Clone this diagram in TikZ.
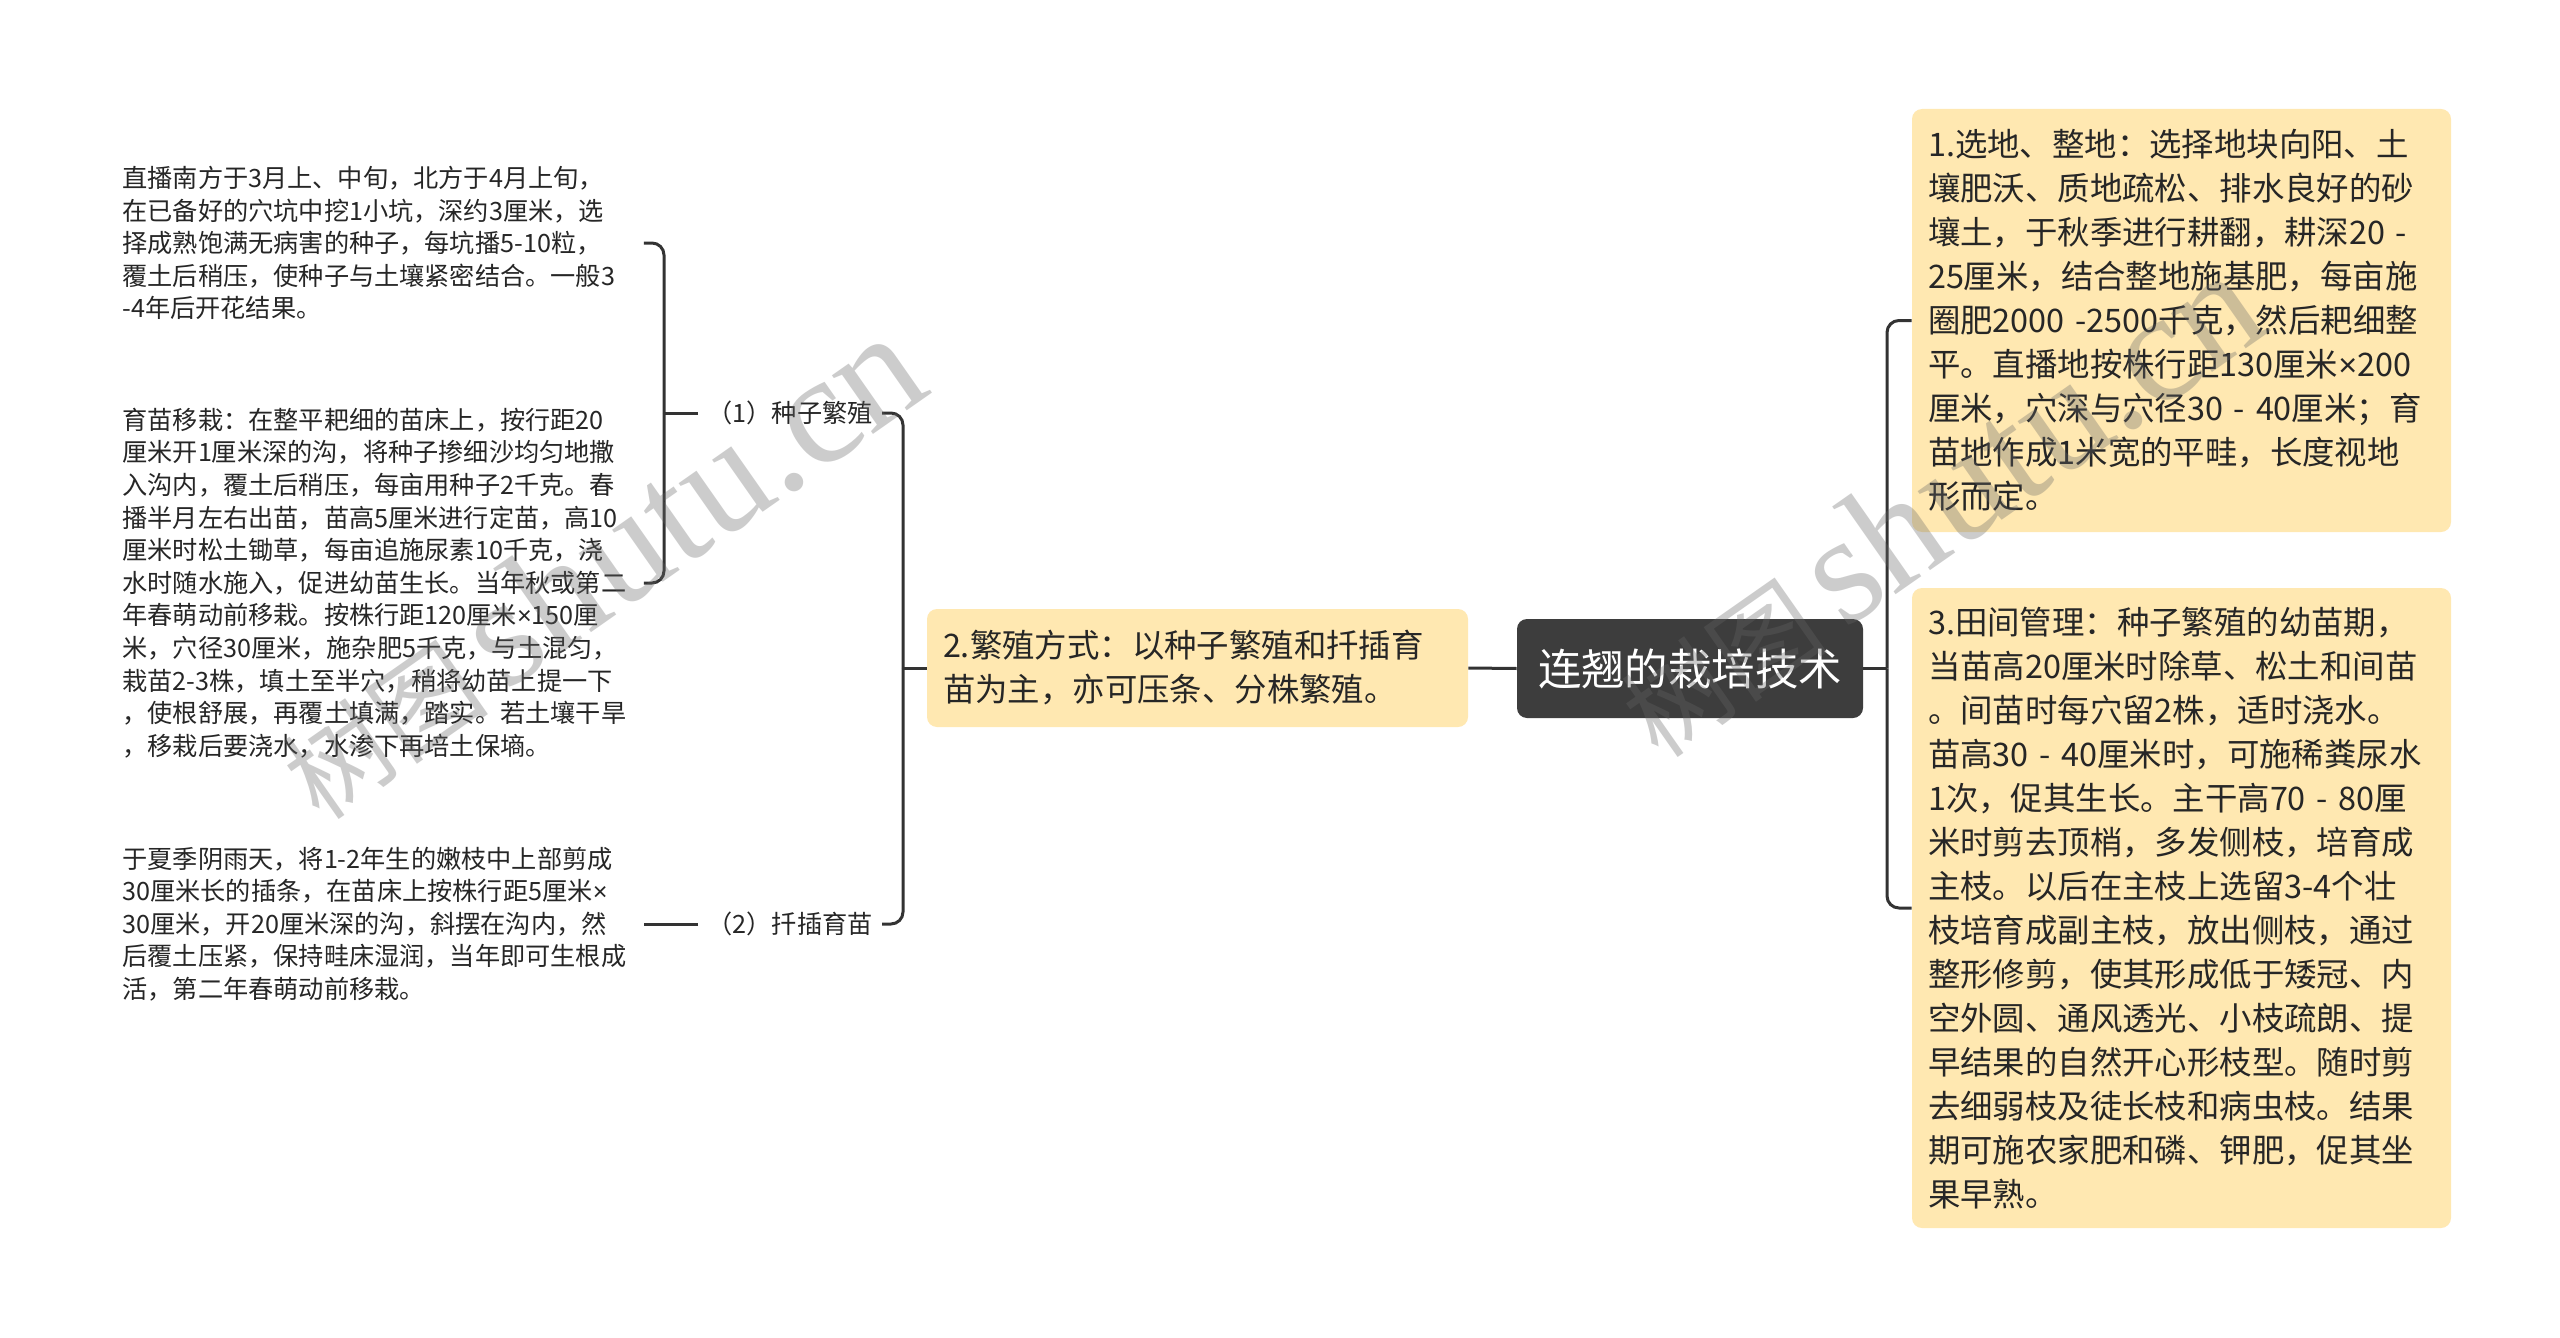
\documentclass[tikz,border=0pt]{standalone}
\usepackage{fontspec}
\setmainfont{Noto Sans CJK SC}
\newfontfamily\wmlatin{Liberation Serif}
\newfontfamily\wmcjk{Noto Sans CJK SC}
\newfontfamily\latinsans{Liberation Sans}
\newcommand{\tms}{{\latinsans ×}}
\definecolor{boxyellow}{HTML}{FFE8B1}
\definecolor{darkbox}{HTML}{3D3D3D}
\definecolor{linec}{HTML}{333333}
\definecolor{txt}{HTML}{262626}
\tikzset{
  conn/.style={draw=linec, line width=1.5pt, rounded corners=6pt},
  ybox/.style={fill=boxyellow, rounded corners=5pt, align=left, inner xsep=8pt, inner ysep=0pt,
    text=txt, font=\fontsize{16.2pt}{22pt}\selectfont},
  rootbox/.style={fill=darkbox, rounded corners=5pt, text=white, inner sep=0pt,
    minimum width=173pt, minimum height=49.5pt, font=\fontsize{21.7pt}{26pt}\selectfont},
  leaftext/.style={align=left, inner sep=0pt, text width=260.5pt, text=txt,
    font=\fontsize{12.6pt}{16.3pt}\selectfont},
  lbl/.style={inner xsep=4.5pt, inner ysep=2pt, text=txt, font=\fontsize{12.6pt}{16pt}\selectfont},
  wm/.style={text=black!60, text opacity=0.33, inner sep=0pt, rotate=35, anchor=base east}
}
\begin{document}
\begin{tikzpicture}[x=0.5pt, y=-0.5pt]
\useasboundingbox[fill=white] (0,0) rectangle (2560,1338);

% root
\node[rootbox] (root) at (1690,668.5) {连翘的栽培技术};

% right branches
\node[ybox, text width=253.5pt, minimum height=211.5pt] (b1) at (2181.5,320.5) {1.选地、整地：选择地块向阳、土\\
壤肥沃、质地疏松、排水良好的砂\\
壤土，于秋季进行耕翻，耕深20 -\\
25厘米，结合整地施基肥，每亩施\\
圈肥2000 -2500千克，然后耙细整\\
平。直播地按株行距130厘米\tms200\\
厘米，穴深与穴径30 - 40厘米；育\\
苗地作成1米宽的平畦，长度视地\\
形而定。};

\node[ybox, text width=253.5pt, minimum height=320pt] (b2) at (2181.5,908) {3.田间管理：种子繁殖的幼苗期，\\
当苗高20厘米时除草、松土和间苗\\
。间苗时每穴留2株，适时浇水。\\
苗高30 - 40厘米时，可施稀粪尿水\\
1次，促其生长。主干高70 - 80厘\\
米时剪去顶梢，多发侧枝，培育成\\
主枝。以后在主枝上选留3-4个壮\\
枝培育成副主枝，放出侧枝，通过\\
整形修剪，使其形成低于矮冠、内\\
空外圆、通风透光、小枝疏朗、提\\
早结果的自然开心形枝型。随时剪\\
去细弱枝及徒长枝和病虫枝。结果\\
期可施农家肥和磷、钾肥，促其坐\\
果早熟。};

% left branch
\node[ybox, text width=254.5pt, minimum height=59pt] (bl) at (1197.5,668) {2.繁殖方式：以种子繁殖和扦插育\\
苗为主，亦可压条、分株繁殖。};

\node[lbl, anchor=east] (l1) at (882,413) {（1）种子繁殖};
\node[lbl, anchor=east] (l2) at (882,924) {（2）扦插育苗};

\node[leaftext, anchor=west] (ta) at (122,243) {直播南方于3月上、中旬，北方于4月上旬，\\
在已备好的穴坑中挖1小坑，深约3厘米，选\\
择成熟饱满无病害的种子，每坑播5-10粒，\\
覆土后稍压，使种子与土壤紧密结合。一般3\\
-4年后开花结果。};

\node[leaftext, anchor=west] (tb) at (122,583) {育苗移栽：在整平耙细的苗床上，按行距20\\
厘米开1厘米深的沟，将种子掺细沙均匀地撒\\
入沟内，覆土后稍压，每亩用种子2千克。春\\
播半月左右出苗，苗高5厘米进行定苗，高10\\
厘米时松土锄草，每亩追施尿素10千克，浇\\
水时随水施入，促进幼苗生长。当年秋或第二\\
年春萌动前移栽。按株行距120厘米\tms150厘\\
米，穴径30厘米，施杂肥5千克，与土混匀，\\
栽苗2-3株，填土至半穴，稍将幼苗上提一下\\
，使根舒展，再覆土填满，踏实。若土壤干旱\\
，移栽后要浇水，水渗下再培土保墒。};

\node[leaftext, anchor=west] (tc) at (122,924) {于夏季阴雨天，将1-2年生的嫩枝中上部剪成\\
30厘米长的插条，在苗床上按株行距5厘米\tms\\
30厘米，开20厘米深的沟，斜摆在沟内，然\\
后覆土压紧，保持畦床湿润，当年即可生根成\\
活，第二年春萌动前移栽。};

% connectors
\coordinate (jr) at (1887,668.5);
\coordinate (jl) at (903,668);
\coordinate (jb) at (664,413);
\draw[conn] (root.west) -- (bl.east);
\draw[conn] (root.east) -- (jr);
\draw[conn] (jr) |- (b1.west);
\draw[conn] (jr) |- (b2.west);
\draw[conn] (bl.west) -- (jl);
\draw[conn] (jl) |- (l1.east);
\draw[conn] (jl) |- (l2.east);
\draw[conn] (l1.west) -- (jb);
\draw[conn] (jb) |- (ta.east);
\draw[conn] (jb) |- (tb.east);
\draw[conn] (l2.west) -- (tc.east);

% watermarks
\node[wm] (wm1) at (935,392) {\wmcjk\fontsize{52pt}{52pt}\selectfont 树图\,\wmlatin\fontsize{78pt}{78pt}\selectfont shutu.cn};
\node[wm] (wm2) at (2274,330) {\wmcjk\fontsize{52pt}{52pt}\selectfont 树图\,\wmlatin\fontsize{78pt}{78pt}\selectfont shutu.cn};
\end{tikzpicture}
\end{document}
